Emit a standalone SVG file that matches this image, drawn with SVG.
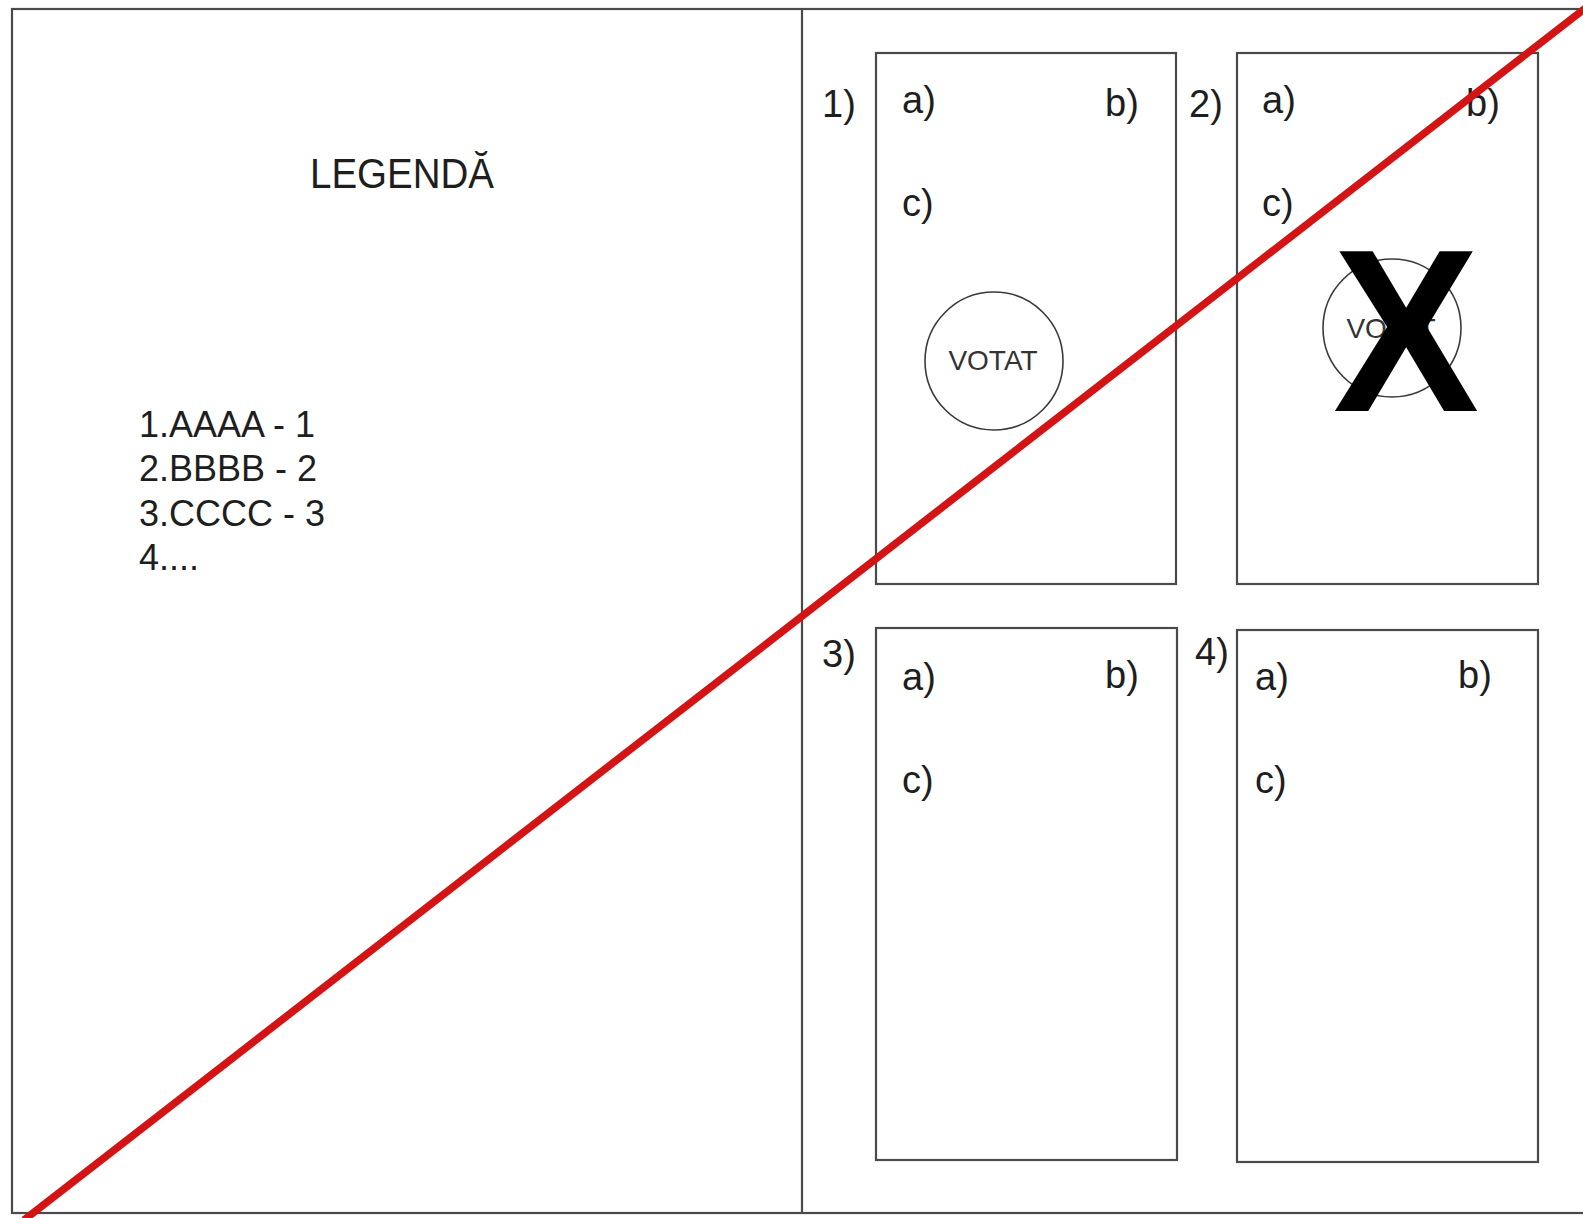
<svg xmlns="http://www.w3.org/2000/svg" width="1583" height="1218" viewBox="0 0 1583 1218">
  <style>
    .frame { fill: none; stroke: #4a4a4a; stroke-width: 2.2; }
    .box { fill: none; stroke: #4a4a4a; stroke-width: 2.2; }
    .stamp { fill: none; stroke: #3a3a3a; stroke-width: 1.6; }
    .lbl { font-family: "Liberation Sans", Arial, sans-serif; font-size: 38px; fill: #1e1e1e; }
    .leg { font-family: "Liberation Sans", Arial, sans-serif; font-size: 36px; fill: #1e1e1e; }
    .title { font-family: "Liberation Sans", Arial, sans-serif; font-size: 42px; fill: #1e1e1e; }
    .vot { font-family: "Liberation Sans", Arial, sans-serif; font-size: 28px; fill: #333; text-anchor: middle; }
    .bigx { font-family: "Liberation Sans", Arial, sans-serif; font-size: 219px; font-weight: bold; fill: #000; text-anchor: middle; }
  </style>
  <rect x="0" y="0" width="1583" height="1218" fill="#ffffff"/>

  <g id="frame">
    <rect class="frame" x="12" y="9" width="1600" height="1204"/>
    <line class="frame" x1="802" y1="9" x2="802" y2="1213"/>
  </g>

  <g id="legend">
    <text class="title" x="310" y="188" textLength="184" lengthAdjust="spacingAndGlyphs">LEGENDĂ</text>
    <text class="leg" x="139" y="437">1.AAAA - 1</text>
    <text class="leg" x="139" y="481">2.BBBB - 2</text>
    <text class="leg" x="139" y="526">3.CCCC - 3</text>
    <text class="leg" x="139" y="570">4....</text>
  </g>

  <g id="ballot1">
    <rect class="box" x="876" y="53" width="300" height="531"/>
    <text class="lbl" x="822" y="117">1)</text>
    <text class="lbl" x="902" y="113">a)</text>
    <text class="lbl" x="1105" y="116">b)</text>
    <text class="lbl" x="902" y="216">c)</text>
    <circle class="stamp" cx="994" cy="361" r="69"/>
    <text class="vot" x="993" y="370">VOTAT</text>
  </g>

  <g id="ballot2">
    <rect class="box" x="1237" y="53" width="301" height="531"/>
    <text class="lbl" x="1189" y="117">2)</text>
    <text class="lbl" x="1262" y="113">a)</text>
    <text class="lbl" x="1466" y="116">b)</text>
    <text class="lbl" x="1262" y="216">c)</text>
    <circle class="stamp" cx="1392" cy="328" r="69"/>
    <text class="vot" x="1391" y="338">VOTAT</text>
    <g transform="translate(1406,411) scale(1,1.06)">
      <text class="bigx" x="0" y="0">X</text>
    </g>
  </g>

  <g id="ballot3">
    <rect class="box" x="876" y="628" width="301" height="532"/>
    <text class="lbl" x="822" y="667">3)</text>
    <text class="lbl" x="902" y="690">a)</text>
    <text class="lbl" x="1105" y="688">b)</text>
    <text class="lbl" x="902" y="793">c)</text>
  </g>

  <g id="ballot4">
    <rect class="box" x="1237" y="630" width="301" height="532"/>
    <text class="lbl" x="1195" y="665">4)</text>
    <text class="lbl" x="1255" y="690">a)</text>
    <text class="lbl" x="1458" y="688">b)</text>
    <text class="lbl" x="1255" y="793">c)</text>
  </g>

  <g id="connectors">
    <line x1="24" y1="1220" x2="1592" y2="3" stroke="#d41414" stroke-width="7.5"/>
  </g>
</svg>
